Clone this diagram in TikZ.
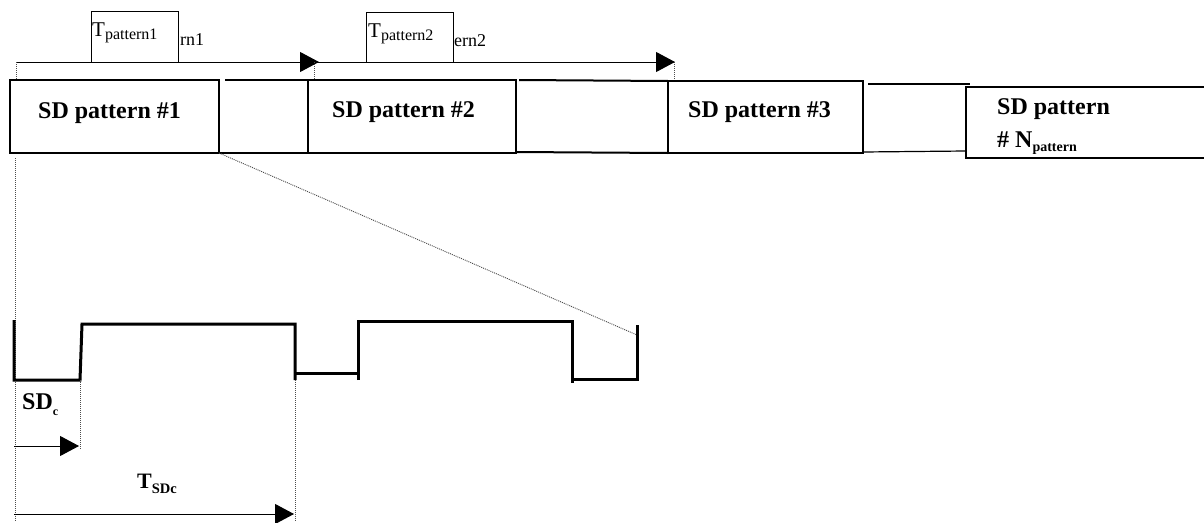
\documentclass[tikz,border=0pt]{standalone}
\usepackage{fontspec}
\setmainfont{Liberation Serif}
\usetikzlibrary{arrows.meta}
\newcommand\bigbold{\fontsize{24}{26}\selectfont\bfseries}
\begin{document}
\begin{tikzpicture}[x=1pt,y=-1pt,
  sdbox/.style={draw, line width=2pt, rectangle, inner sep=0pt, outer sep=0pt, anchor=north west},
  openbox/.style={rectangle, inner sep=0pt, outer sep=0pt, anchor=north west},
  gapline/.style={line width=2pt},
  timearrow/.style={line width=1pt, -{Triangle[length=19pt,width=20pt]}},
  guide/.style={line width=0.9pt, gray!60!black, dash pattern=on 1pt off 1pt},
  wave/.style={line width=3pt, line join=miter, line cap=butt},
  lbl/.style={inner sep=0pt, anchor=base west},
  tbox/.style={draw, line width=0.8pt, fill=white, inner sep=0pt, anchor=north west}
]
\useasboundingbox (0,0) rectangle (1204,522);

% top boxes
\node[sdbox, minimum width=209pt, minimum height=73pt] (b1) at (10,80) {};
\node[sdbox, minimum width=208pt, minimum height=73pt] (b2) at (308,80) {};
\node[sdbox, minimum width=195pt, minimum height=72pt] (b3) at (668,81) {};
\node[openbox, minimum width=250pt, minimum height=71pt] (b4) at (966,87) {};
\draw[line width=2pt] (b4.north east) -- (b4.north west) -- (b4.south west) -- (b4.south east);

% gap lines
\coordinate (g1t) at (225,80);
\coordinate (g2t) at (519,80);
\coordinate (g2b) at (516,152);
\coordinate (g3t) at (868,84);
\coordinate (g3te) at (970,84);
\coordinate (g3b) at (863,152);
\coordinate (g3be) at (966,151);
\draw[gapline] (g1t) -- (b2.north west);
\draw[gapline] (b1.south east) -- (b2.south west);
\draw[gapline] (g2t) -- (b3.north west);
\draw[gapline] (g2b) -- (b3.south west);
\draw[gapline] (g3t) -- (g3te);
\draw[line width=1.2pt] (g3b) -- (g3be);

% box texts
\node[lbl] (t1) at (38,118) {\bigbold SD pattern \#1};
\node[lbl] (t2) at (332,117) {\bigbold SD pattern \#2};
\node[lbl] (t3) at (688,117) {\bigbold SD pattern \#3};
\node[lbl] (t4a) at (997,114) {\bigbold SD pattern};
\node[lbl] (t4b) at (997,147) {\bigbold \# N\raisebox{-4pt}{\fontsize{14}{16}\selectfont\bfseries pattern}};

% period arrows
\coordinate (a0) at (16,62);
\coordinate (a1) at (319,62);
\coordinate (a2) at (675,62);
\coordinate (a1s) at (314,62);
\draw[timearrow] (a0) -- (a1);
\draw[timearrow] (a1s) -- (a2);
\draw[guide] (a0) -- (16,80);
\draw[guide] (a1s) -- (314,80);
\draw[guide] (674,62) -- (674,80);

% period labels
\node[lbl] (r1) at (180,45) {\fontsize{18}{20}\selectfont rn1};
\node[tbox, minimum width=87pt, minimum height=51pt] (p1) at (91,11) {};
\node[lbl] (p1t) at (92,36) {\fontsize{21}{23}\selectfont T\raisebox{-3pt}{\fontsize{16}{18}\selectfont pattern1}};
\node[lbl] (r2) at (454,46) {\fontsize{18}{20}\selectfont ern2};
\node[tbox, minimum width=87pt, minimum height=50pt] (p2) at (366,12) {};
\node[lbl] (p2t) at (368,37) {\fontsize{21}{23}\selectfont T\raisebox{-3pt}{\fontsize{16}{18}\selectfont pattern2}};

% zoom guide
\coordinate (w9) at (637,335);
\draw[guide] (b1.south east) -- (w9);
\draw[guide] (15,158) -- (15,522);

% waveform
\draw[wave] (14,320) -- (14,380) -- (80,380) -- (82,324) -- (295,324) -- (295,380);
\draw[wave] (295,373) -- (358,373);
\draw[wave] (358,380) -- (358,321) -- (572,321) -- (572,383);
\draw[wave] (572,379) -- (637,379) -- (w9);
\draw[wave] (637,379) -- (637,325);

% waveform guides
\draw[guide] (80,380) -- (80,450);
\draw[guide] (295,380) -- (295,522);

% SDc
\node[lbl] (sdc) at (22,409) {\bigbold SD\raisebox{-6pt}{\fontsize{12}{14}\selectfont\bfseries c}};
\coordinate (c0) at (14,446);
\coordinate (c1) at (79,446);
\draw[timearrow] (c0) -- (c1);

% TSDc
\node[lbl] (tsdc) at (137,488) {\fontsize{22}{24}\selectfont\bfseries T\raisebox{-5pt}{\fontsize{14.5}{16}\selectfont\bfseries SDc}};
\coordinate (d0) at (14,514);
\coordinate (d1) at (294,514);
\draw[timearrow] (d0) -- (d1);
\end{tikzpicture}
\end{document}
